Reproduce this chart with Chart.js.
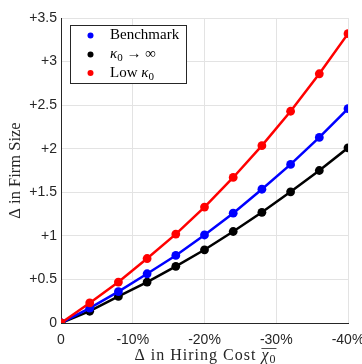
<!DOCTYPE html>
<html>
<head>
<meta charset="utf-8">
<script src="https://cdn.jsdelivr.net/npm/chart.js@4.4.1/dist/chart.umd.min.js"></script>
<style>
  html, body { margin: 0; padding: 0; background: #fff; }
  #wrap { width: 362px; height: 364px; }
</style>
</head>
<body>
<div id="wrap"><canvas id="firmChart" width="362" height="364"></canvas></div>
<script>
// cut in hiring cost (percent)
const costCuts = [0, -4, -8, -12, -16, -20, -24, -28, -32, -36, -40];
const benchmark = [0, 0.17, 0.36, 0.565, 0.775, 1.01, 1.26, 1.535, 1.82, 2.13, 2.46];
const kappaInf = [0, 0.135, 0.305, 0.47, 0.65, 0.84, 1.05, 1.27, 1.505, 1.75, 2.01];
const lowKappa = [0, 0.23, 0.47, 0.74, 1.02, 1.33, 1.67, 2.035, 2.43, 2.86, 3.32];
const seriesNames = ['Benchmark', 'κ0 → ∞', 'Low κ0'];
const xTicks = [0, -10, -20, -30, -40];
const yTicks = [0, 0.5, 1, 1.5, 2, 2.5, 3, 3.5];

const colors = ['#0000ff', '#000000', '#ff0000'];
const serif = '"Liberation Serif"';

function pts(ys) {
    return costCuts.map((x, i) => ({ x: x, y: ys[i] }));
}

function makeSet(label, ys, color, order) {
    return {
        label: label,
        data: pts(ys),
        borderColor: color,
        backgroundColor: color,
        borderWidth: 2.5,
        pointRadius: 4.4,
        pointHoverRadius: 4.4,
        pointBorderWidth: 0,
        order: order
    };
}

// split "κ0" into italic kappa + subscript zero, rest plain
function pieces(text, size) {
    let out = [];
    let parts = text.split(/(κ0|χ0)/);
    parts.forEach(p => {
        if (p === '') return;
        if (p === 'κ0' || p === 'χ0') {
            out.push({ t: p[0], font: 'italic ' + size + 'px ' + serif, dy: 0 });
            out.push({ t: '0', font: Math.round(size * 0.72) + 'px ' + serif, dy: size * 0.27 });
        } else {
            out.push({ t: p, font: size + 'px ' + serif, dy: 0 });
        }
    });
    return out;
}

function measureRich(ctx, list) {
    let w = 0;
    list.forEach(s => { ctx.font = s.font; s.w = ctx.measureText(s.t).width; w += s.w; });
    return w;
}

function drawRich(ctx, list, x, y) {
    let cx = x;
    list.forEach(s => {
        ctx.font = s.font;
        ctx.fillText(s.t, cx, y + s.dy);
        s.x = cx;
        cx += ctx.measureText(s.t).width;
    });
    return cx;
}

// legend box inside the plot + x-axis title with overline
const boxLegend = {
    id: 'boxLegend',
    afterDraw(chart) {
        const ctx = chart.ctx;
        ctx.save();
        ctx.fillStyle = '#fff';
        ctx.fillRect(70.5, 25.5, 116, 58);
        ctx.strokeStyle = '#262626';
        ctx.lineWidth = 1;
        ctx.strokeRect(70.5, 25.5, 116, 58);
        const rows = [35.5, 54.5, 73];
        ctx.textBaseline = 'middle';
        seriesNames.forEach((name, i) => {
            ctx.fillStyle = colors[i];
            ctx.beginPath();
            ctx.arc(90.5, rows[i], 3, 0, Math.PI * 2);
            ctx.fill();
            ctx.fillStyle = '#000';
            drawRich(ctx, pieces(name, 15), 110, rows[i]);
        });

        // x title
        ctx.letterSpacing = '1px';
        const title = pieces('Δ in Hiring Cost χ0', 16);
        const w = measureRich(ctx, title);
        const x0 = 205.5 - w / 2;
        const ty = 355.5;
        ctx.fillStyle = '#262626';
        drawRich(ctx, title, x0, ty);
        const chi = title[title.length - 2];
        const zero = title[title.length - 1];
        ctx.strokeStyle = '#262626';
        ctx.lineWidth = 0.8;
        ctx.beginPath();
        ctx.moveTo(chi.x, 348.5);
        ctx.lineTo(zero.x + zero.w, 348.5);
        ctx.stroke();
        ctx.restore();
    }
};

const ctx = document.getElementById('firmChart').getContext('2d');
new Chart(ctx, {
    type: 'line',
    data: {
        datasets: [
            makeSet(seriesNames[0], benchmark, colors[0], 2),
            makeSet(seriesNames[1], kappaInf, colors[1], 3),
            makeSet(seriesNames[2], lowKappa, colors[2], 1)
        ]
    },
    options: {
        responsive: false,
        animation: false,
        layout: { padding: { left: 0, right: 0, top: 18, bottom: 0 } },
        plugins: {
            legend: { display: false },
            tooltip: { enabled: false }
        },
        scales: {
            x: {
                type: 'linear',
                reverse: true,
                min: -40,
                max: 0,
                afterBuildTicks: s => { s.ticks = xTicks.map(v => ({ value: v })); },
                afterFit: s => { s.height = 41; s.paddingRight = 14; },
                border: { color: '#262626', width: 1 },
                grid: { color: '#e3e3e3', lineWidth: 1, drawTicks: false },
                ticks: {
                    padding: 9,
                    maxRotation: 0,
                    color: '#262626',
                    font: { family: '"Liberation Sans"', size: 14 },
                    callback: v => v === 0 ? '0' : v + '%'
                }
            },
            y: {
                min: 0,
                max: 3.5,
                afterBuildTicks: s => { s.ticks = yTicks.map(v => ({ value: v })); },
                afterFit: s => { s.width = 61; },
                border: { color: '#262626', width: 1 },
                grid: { color: '#e3e3e3', lineWidth: 1, drawTicks: false },
                ticks: {
                    padding: 4,
                    color: '#262626',
                    font: { family: '"Liberation Sans"', size: 14 },
                    callback: v => v === 0 ? '0' : '+' + v
                },
                title: {
                    display: true,
                    text: 'Δ in Firm Size',
                    color: '#262626',
                    padding: { top: 6, bottom: 0 },
                    font: { family: serif, size: 16.5 }
                }
            }
        }
    },
    plugins: [boxLegend]
});
</script>
</body>
</html>
